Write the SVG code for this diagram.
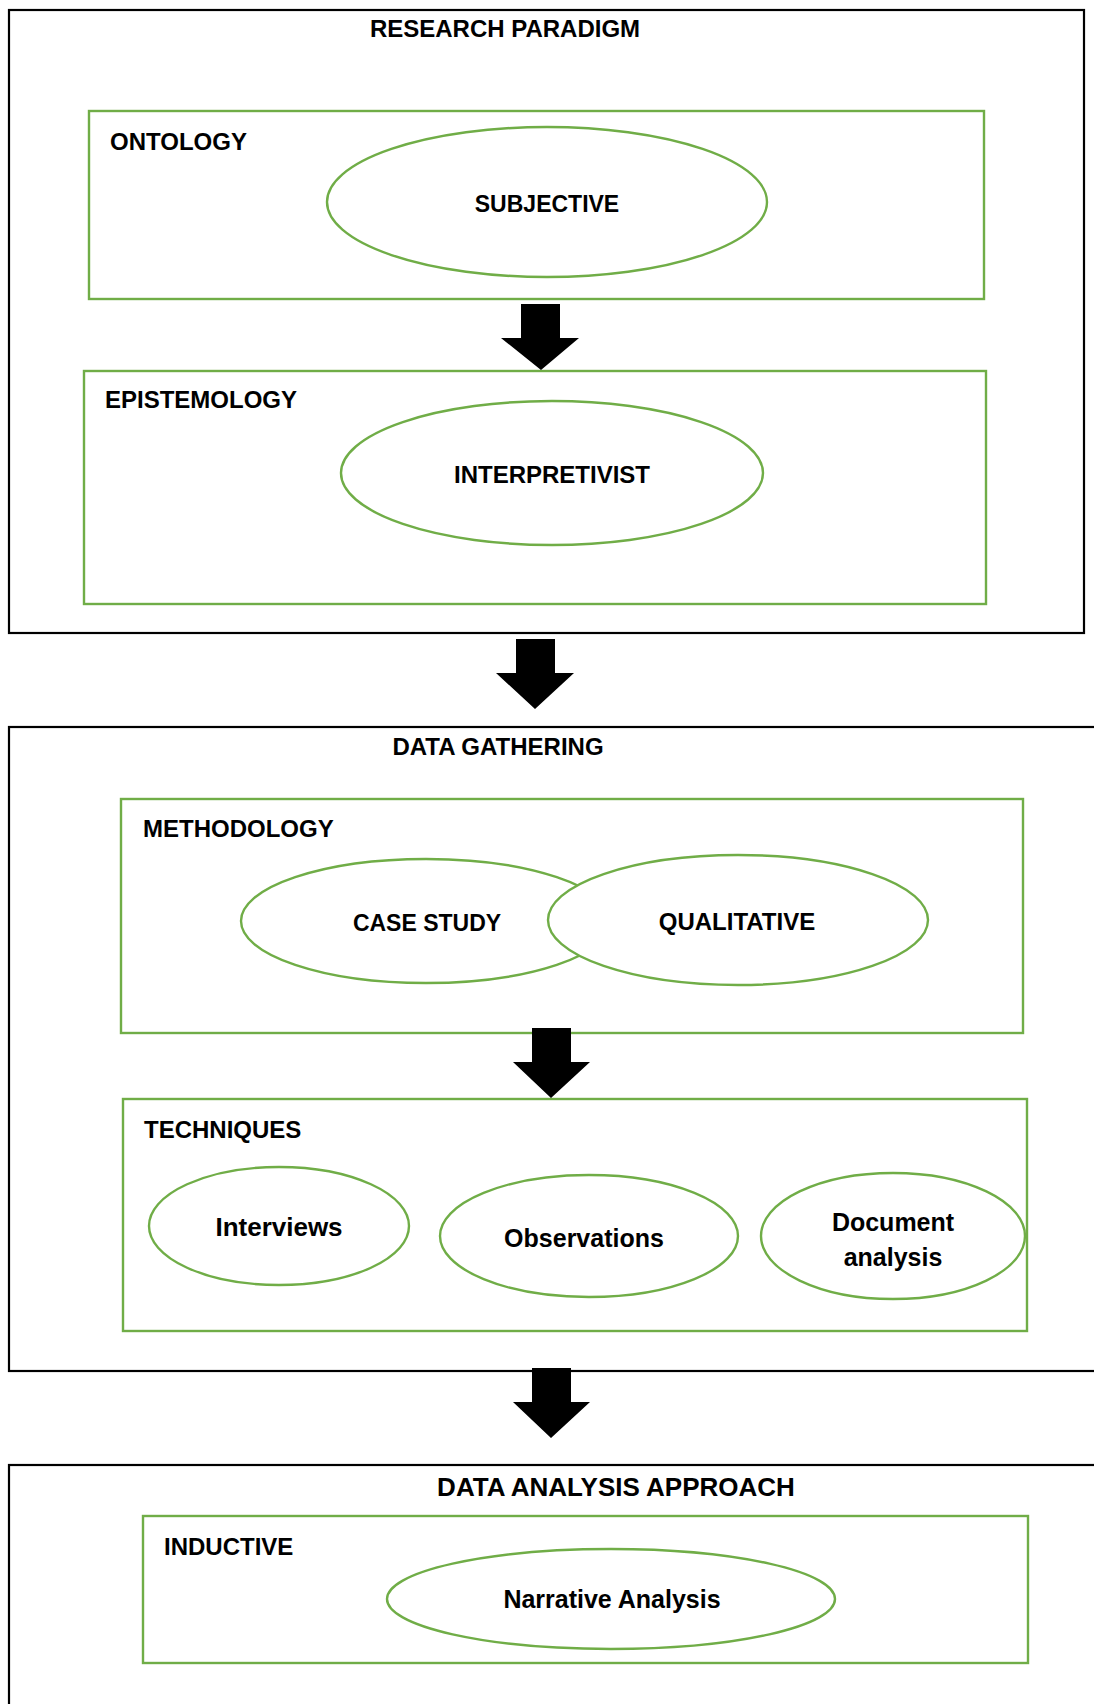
<svg xmlns="http://www.w3.org/2000/svg" width="1094" height="1704" viewBox="0 0 1094 1704">
  <style>
    .frame { fill: #ffffff; stroke: #000000; stroke-width: 2.2; }
    .box { fill: none; stroke: #70AD47; stroke-width: 2.4; }
    .oval { fill: #ffffff; stroke: #70AD47; stroke-width: 2.4; }
    text { font-family: "Liberation Sans", Arial, sans-serif; font-weight: bold; fill: #000000; font-size: 24px; }
    .mid { text-anchor: middle; }
    .mixed { font-size: 25px; }
    .small { font-size: 23px; }
    .large { font-size: 26px; }
    .arrow { fill: #000000; stroke: none; }
  </style>

  <rect width="1094" height="1704" fill="#ffffff"/>

  <!-- Research paradigm section -->
  <g id="research-paradigm">
    <rect class="frame" x="9" y="10" width="1075" height="623"/>
    <text class="mid" x="505" y="37">RESEARCH PARADIGM</text>
  </g>
  <g id="ontology">
    <rect class="box" x="89" y="111" width="895" height="188"/>
    <text x="110" y="150">ONTOLOGY</text>
  </g>
  <g id="subjective">
    <ellipse class="oval" cx="547" cy="202" rx="220" ry="75"/>
    <text class="mid small" x="547" y="212">SUBJECTIVE</text>
  </g>
  <g id="epistemology">
    <rect class="box" x="84" y="371" width="902" height="233"/>
    <text x="105" y="408">EPISTEMOLOGY</text>
  </g>
  <g id="interpretivist">
    <ellipse class="oval" cx="552" cy="473" rx="211" ry="72"/>
    <text class="mid" x="552" y="483">INTERPRETIVIST</text>
  </g>

  <!-- Data gathering section -->
  <g id="data-gathering">
    <rect class="frame" x="9" y="727" width="1095" height="644"/>
    <text class="mid" x="498" y="755">DATA GATHERING</text>
  </g>
  <g id="methodology">
    <rect class="box" x="121" y="799" width="902" height="234"/>
    <text x="143" y="837">METHODOLOGY</text>
  </g>
  <g id="case-study">
    <ellipse class="oval" cx="426" cy="921" rx="185" ry="62"/>
    <text class="mid small" x="427" y="931">CASE STUDY</text>
  </g>
  <g id="qualitative">
    <ellipse class="oval" cx="738" cy="920" rx="190" ry="65"/>
    <text class="mid" x="737" y="930">QUALITATIVE</text>
  </g>
  <g id="techniques">
    <rect class="box" x="123" y="1099" width="904" height="232"/>
    <text x="144" y="1138">TECHNIQUES</text>
  </g>
  <g id="interviews">
    <ellipse class="oval" cx="279" cy="1226" rx="130" ry="59"/>
    <text class="mid large" x="279" y="1236">Interviews</text>
  </g>
  <g id="observations">
    <ellipse class="oval" cx="589" cy="1236" rx="149" ry="61"/>
    <text class="mid mixed" x="584" y="1247">Observations</text>
  </g>
  <g id="document-analysis">
    <ellipse class="oval" cx="893" cy="1236" rx="132" ry="63"/>
    <text class="mid mixed" x="893" y="1231">Document</text>
    <text class="mid mixed" x="893" y="1266">analysis</text>
  </g>

  <!-- Data analysis section -->
  <g id="data-analysis-approach">
    <rect class="frame" x="9" y="1465" width="1095" height="260"/>
    <text class="mid large" x="616" y="1496">DATA ANALYSIS APPROACH</text>
  </g>
  <g id="inductive">
    <rect class="box" x="143" y="1516" width="885" height="147"/>
    <text x="164" y="1555">INDUCTIVE</text>
  </g>
  <g id="narrative-analysis">
    <ellipse class="oval" cx="611" cy="1599" rx="224" ry="50"/>
    <text class="mid mixed" x="612" y="1608">Narrative Analysis</text>
  </g>

  <!-- Block arrows between stages -->
  <g id="connectors">
    <polygon class="arrow" points="521,304 560,304 560,338 579,338 541,370 501,338 521,338"/>
    <polygon class="arrow" points="516,639 555,639 555,673 574,673 535,709 496,673 516,673"/>
    <polygon class="arrow" points="532,1028 571,1028 571,1062 590,1062 551,1098 513,1062 532,1062"/>
    <polygon class="arrow" points="532,1368 571,1368 571,1402 590,1402 551,1438 513,1402 532,1402"/>
  </g>
</svg>
